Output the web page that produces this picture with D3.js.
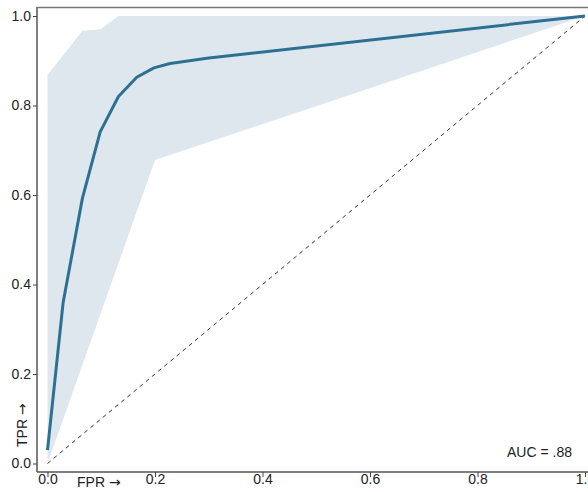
<!DOCTYPE html>
<html>
<head>
<meta charset="utf-8">
<script src="https://cdn.jsdelivr.net/npm/d3@7"></script>
<style>
  body { margin: 0; background: #fff; }
  svg { display: block; font-family: "Liberation Sans", Arial, sans-serif; }
  .arrow { font-family: "DejaVu Sans", sans-serif; }
</style>
</head>
<body>
<div id="chart"></div>
<script>
// mean ROC curve
const rocFpr = [0, 0.029, 0.065, 0.098, 0.132, 0.166, 0.198, 0.228, 0.3, 1];
const rocTpr = [0.03, 0.359, 0.593, 0.741, 0.82, 0.863, 0.884, 0.894, 0.906, 1];

// confidence band, upper and lower edges
const upperFpr = [0, 0.065, 0.098, 0.132, 1];
const upperTpr = [0.868, 0.967, 0.97, 1, 1];
const lowerFpr = [0, 0.2, 1];
const lowerTpr = [0, 0.678, 1];

const tickValues = [0, 0.2, 0.4, 0.6, 0.8, 1.0];
const aucLabel = "AUC = .88";

const width = 588, height = 492;

const svg = d3.select("#chart")
  .append("svg")
  .attr("width", width)
  .attr("height", height);

const x = d3.scaleLinear().domain([0, 1]).range([47.5, 585]);
const y = d3.scaleLinear().domain([0, 1]).range([463.5, 16]);

const upper = upperFpr.map((f, i) => [f, upperTpr[i]]);
const lower = lowerFpr.map((f, i) => [f, lowerTpr[i]]);
const band = upper.concat(lower.slice().reverse());

const line = d3.line().x(d => x(d[0])).y(d => y(d[1]));

svg.append("path")
  .attr("d", line(band) + "Z")
  .attr("fill", "#dfe7ee")
  .attr("stroke", "none");

// chance diagonal
svg.append("path")
  .attr("d", line([[0, 0], [1, 1]]))
  .attr("fill", "none")
  .attr("stroke", "#333")
  .attr("stroke-width", 1)
  .attr("stroke-dasharray", "4,4");

svg.append("path")
  .attr("d", line(rocFpr.map((f, i) => [f, rocTpr[i]])))
  .attr("fill", "none")
  .attr("stroke", "#2d7091")
  .attr("stroke-width", 3)
  .attr("stroke-linejoin", "round");

// spines
const spine = "#555";
svg.append("line").attr("x1", 37).attr("x2", 37).attr("y1", 7).attr("y2", 472)
  .attr("stroke", spine).attr("stroke-width", 1.5);
svg.append("line").attr("x1", 37).attr("x2", 600).attr("y1", 472).attr("y2", 472)
  .attr("stroke", spine).attr("stroke-width", 1.5);
svg.append("line").attr("x1", 37).attr("x2", 600).attr("y1", 7.5).attr("y2", 7.5)
  .attr("stroke", "#777").attr("stroke-width", 1.5);

const fmt = d3.format(".1f");

const yAxis = svg.append("g")
  .attr("transform", "translate(37,0)")
  .call(d3.axisLeft(y).tickValues(tickValues).tickFormat(fmt).tickSize(4).tickPadding(2));

const xAxis = svg.append("g")
  .attr("transform", "translate(0,472)")
  .call(d3.axisBottom(x).tickValues(tickValues).tickFormat(fmt).tickSize(5).tickPadding(-3));

[yAxis, xAxis].forEach(g => {
  g.select(".domain").remove();
  g.selectAll("line").attr("stroke", "#444");
  g.selectAll("text").attr("fill", "#222").style("font-size", "14px");
});

const xLabel = svg.append("text")
  .attr("x", 77)
  .attr("y", 487)
  .attr("fill", "#222")
  .style("font-size", "14px");
xLabel.append("tspan").text("FPR ");
xLabel.append("tspan").attr("class", "arrow").text("\u2192");

const yLabel = svg.append("text")
  .attr("transform", "translate(27,447) rotate(-90)")
  .attr("fill", "#222")
  .style("font-size", "14px");
yLabel.append("tspan").text("TPR ");
yLabel.append("tspan").attr("class", "arrow").text("\u2192");

svg.append("text")
  .attr("x", 572)
  .attr("y", 457)
  .attr("text-anchor", "end")
  .attr("fill", "#222")
  .style("font-size", "14px")
  .text(aucLabel);
</script>
</body>
</html>
